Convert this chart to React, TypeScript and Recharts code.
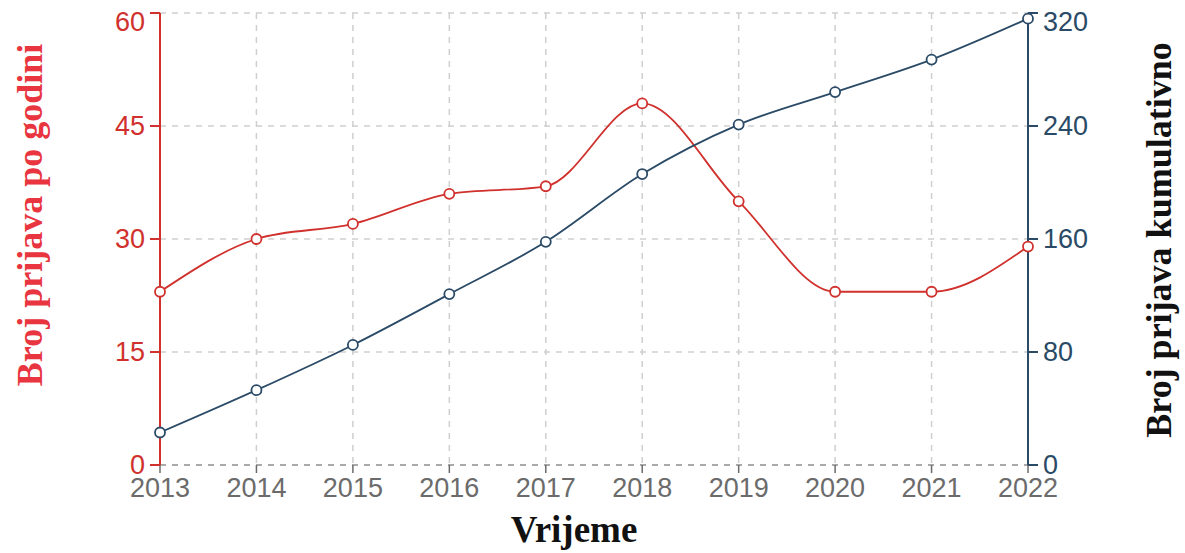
import React from 'react';
import { LineChart, Line, XAxis, YAxis, CartesianGrid } from 'recharts';

const years = ['2013', '2014', '2015', '2016', '2017', '2018', '2019', '2020', '2021', '2022'];
const perYear = [23, 30, 32, 36, 37, 48, 35, 23, 23, 29];
const cumulative = [23, 53, 85, 121, 158, 206, 241, 264, 287, 316];
const leftTicks = [0, 15, 30, 45, 60];
const rightTicks = [0, 80, 160, 240, 320];

const data = years.map((y, i) => ({ year: y, perYear: perYear[i], cumulative: cumulative[i] }));

const RED = '#d0312d';
const RED_TITLE = '#e8353f';
const BLUE = '#2a4a66';
const GREY = '#6b6b6b';
const SANS = "'Liberation Sans', Arial, sans-serif";
const SERIF = "'Liberation Serif', serif";

const leftTitle = () => (
  <text x={30} y={215} transform="rotate(-90 30 215)" textAnchor="middle" dominantBaseline="central"
    fill={RED_TITLE} fontFamily={SERIF} fontWeight="bold" fontSize={36}>
    Broj prijava po godini
  </text>
);
const rightTitle = () => (
  <text x={1159} y={240} transform="rotate(-90 1159 240)" textAnchor="middle" dominantBaseline="central"
    fill="#111" fontFamily={SERIF} fontWeight="bold" fontSize={36}>
    Broj prijava kumulativno
  </text>
);
const xTitle = () => (
  <text x={574} y={542} textAnchor="middle"
    fill="#111" fontFamily={SERIF} fontWeight="bold" fontSize={37}>
    Vrijeme
  </text>
);

const makeYTick = (color: string, anchor: 'start' | 'end') => (props: any) => {
  const { x, y, payload } = props;
  const yy = y < 20 ? y + 9 : y;
  return (
    <text x={x} y={yy} textAnchor={anchor} dominantBaseline="central" fill={color}
      fontSize={27} fontFamily={SANS}>
      {payload.value}
    </text>
  );
};

export default function App() {
  return (
    <div style={{ position: 'absolute', left: 0, top: 0, background: '#fff' }}>
      <LineChart width={1185} height={553} data={data} margin={{ top: 13, right: 0, bottom: 0, left: 0 }}>
        <CartesianGrid stroke="#cfcfcf" strokeDasharray="6 6" strokeWidth={1.5} yAxisId="left" />
        <XAxis dataKey="year" height={88} padding={{ left: 0, right: 0 }}
          axisLine={{ stroke: '#9a9a9a', strokeWidth: 1.5, strokeDasharray: '6 6' }}
          tickLine={{ stroke: GREY, strokeWidth: 1.5 }} tickSize={8} tickMargin={5}
          tick={{ fill: GREY, fontSize: 27, fontFamily: SANS }}
          interval={0} label={{ content: xTitle }} />
        <YAxis yAxisId="left" orientation="left" width={160} domain={[0, 60]} ticks={leftTicks}
          axisLine={{ stroke: RED, strokeWidth: 2 }} tickLine={{ stroke: RED, strokeWidth: 2 }}
          tickSize={10} tickMargin={5}
          tick={makeYTick(RED, 'end')}
          label={{ content: leftTitle }} />
        <YAxis yAxisId="right" orientation="right" width={157} domain={[0, 320]} ticks={rightTicks}
          axisLine={{ stroke: BLUE, strokeWidth: 2 }} tickLine={{ stroke: BLUE, strokeWidth: 2 }}
          tickSize={10} tickMargin={5}
          tick={makeYTick(BLUE, 'start')}
          label={{ content: rightTitle }} />
        <Line yAxisId="left" type="monotone" dataKey="perYear" stroke={RED} strokeWidth={1.8}
          dot={{ r: 5, fill: '#fff', stroke: RED, strokeWidth: 1.8 }} isAnimationActive={false} />
        <Line yAxisId="right" type="monotone" dataKey="cumulative" stroke={BLUE} strokeWidth={1.8}
          dot={{ r: 5, fill: '#fff', stroke: BLUE, strokeWidth: 1.8 }} isAnimationActive={false} />
      </LineChart>
    </div>
  );
}
